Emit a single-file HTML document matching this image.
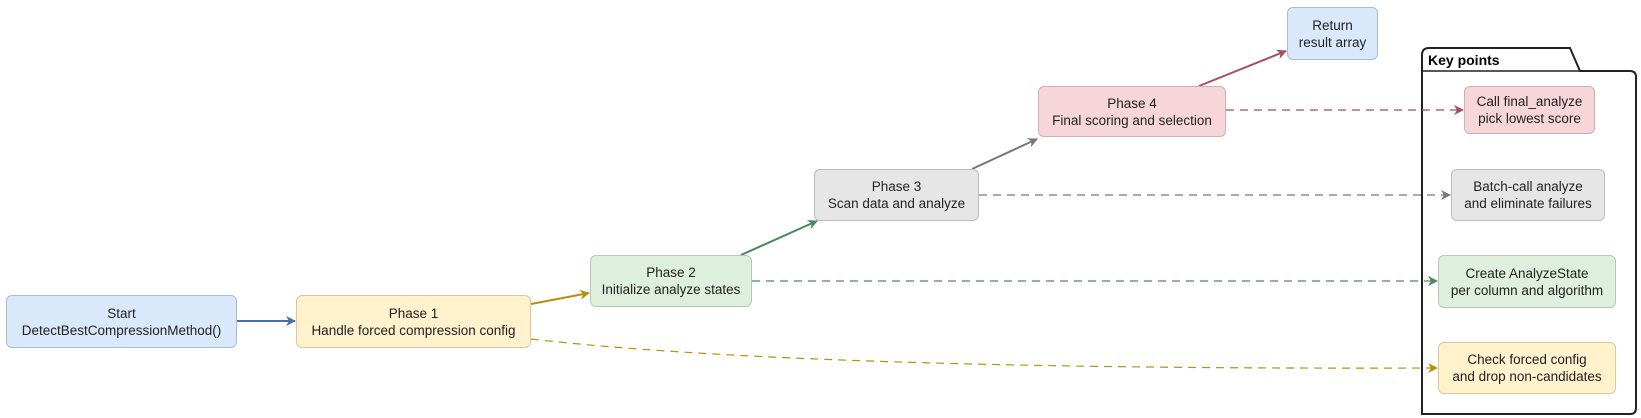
<!DOCTYPE html>
<html><head><meta charset="utf-8"><style>
body{margin:0;width:1641px;height:418px;background:#fff;position:relative;overflow:hidden;font-family:"Liberation Sans",Arial,sans-serif;}
.b{position:absolute;box-sizing:border-box;border-radius:6px;border:1px solid;display:flex;align-items:center;justify-content:center;text-align:center;font-size:13.5px;line-height:17px;color:#222;}
.bl{background:#dae8fc;border-color:#a9bcd6}
.y{background:#fff2cc;border-color:#d6c9a0}
.g{background:#deefdd;border-color:#b3cdb2}
.gr{background:#e6e6e6;border-color:#bcbcbc}
.r{background:#f7d6da;border-color:#d4adb2}
svg{position:absolute;left:0;top:0}
</style></head><body>
<svg width="1641" height="418">
<defs>
<marker id="a1" markerWidth="10" markerHeight="10" refX="9" refY="5" orient="auto" markerUnits="userSpaceOnUse"><path d="M0,0 L10,5 L0,10 L3,5z" fill="#4a6fa0"/></marker>
<marker id="a2" markerWidth="10" markerHeight="10" refX="9" refY="5" orient="auto" markerUnits="userSpaceOnUse"><path d="M0,0 L10,5 L0,10 L3,5z" fill="#b8900a"/></marker>
<marker id="a3" markerWidth="10" markerHeight="10" refX="9" refY="5" orient="auto" markerUnits="userSpaceOnUse"><path d="M0,0 L10,5 L0,10 L3,5z" fill="#4a8a5a"/></marker>
<marker id="a4" markerWidth="10" markerHeight="10" refX="9" refY="5" orient="auto" markerUnits="userSpaceOnUse"><path d="M0,0 L10,5 L0,10 L3,5z" fill="#777"/></marker>
<marker id="a5" markerWidth="10" markerHeight="10" refX="9" refY="5" orient="auto" markerUnits="userSpaceOnUse"><path d="M0,0 L10,5 L0,10 L3,5z" fill="#a84d5e"/></marker>
</defs>
<path d="M1422,414 L1422,55 Q1422,48 1429,48 L1570,48 L1580,71 L1630,71 Q1636,71 1636,77 L1636,408 Q1636,414 1630,414 Z" fill="none" stroke="#222" stroke-width="2"/>
<line x1="1422" y1="71" x2="1580" y2="71" stroke="#222" stroke-width="1.5"/>
<text x="1428" y="65" font-family="Liberation Sans,Arial,sans-serif" font-weight="bold" font-size="14" fill="#000">Key points</text>
<line x1="237" y1="321" x2="295" y2="321" stroke="#4a6fa0" stroke-width="2" marker-end="url(#a1)"/>
<line x1="531" y1="304" x2="589" y2="293" stroke="#b8900a" stroke-width="2" marker-end="url(#a2)"/>
<line x1="741" y1="255" x2="817" y2="221" stroke="#4a8a5a" stroke-width="2" marker-end="url(#a3)"/>
<line x1="972" y1="169" x2="1037" y2="139" stroke="#777" stroke-width="2" marker-end="url(#a4)"/>
<line x1="1199" y1="86" x2="1286" y2="51" stroke="#a84d5e" stroke-width="2" marker-end="url(#a5)"/>
<line x1="1226" y1="110" x2="1463" y2="110" stroke="#a84d5e" stroke-width="1.2" stroke-dasharray="8,6" marker-end="url(#a5)"/>
<line x1="979" y1="195" x2="1450" y2="195" stroke="#777" stroke-width="1.2" stroke-dasharray="8,6" marker-end="url(#a4)"/>
<line x1="752" y1="281" x2="1437" y2="281" stroke="#4a8a5a" stroke-width="1.2" stroke-dasharray="8,6" marker-end="url(#a3)"/>
<path d="M531,339 Q800,370 1437,368" fill="none" stroke="#b8900a" stroke-width="1.2" stroke-dasharray="8,6" marker-end="url(#a2)"/>
</svg>
<div class="b bl" style="left:6px;top:295px;width:231px;height:53px">Start<br>DetectBestCompressionMethod()</div>
<div class="b y" style="left:296px;top:295px;width:235px;height:53px">Phase 1<br>Handle forced compression config</div>
<div class="b g" style="left:590px;top:255px;width:162px;height:52px">Phase 2<br>Initialize analyze states</div>
<div class="b gr" style="left:814px;top:169px;width:165px;height:52px">Phase 3<br>Scan data and analyze</div>
<div class="b r" style="left:1038px;top:86px;width:188px;height:51px">Phase 4<br>Final scoring and selection</div>
<div class="b bl" style="left:1287px;top:7px;width:91px;height:53px">Return<br>result array</div>
<div class="b r" style="left:1464px;top:86px;width:131px;height:48px">Call final_analyze<br>pick lowest score</div>
<div class="b gr" style="left:1451px;top:169px;width:154px;height:52px">Batch-call analyze<br>and eliminate failures</div>
<div class="b g" style="left:1438px;top:255px;width:178px;height:53px">Create AnalyzeState<br>per column and algorithm</div>
<div class="b y" style="left:1438px;top:342px;width:178px;height:52px">Check forced config<br>and drop non-candidates</div>
</body></html>
